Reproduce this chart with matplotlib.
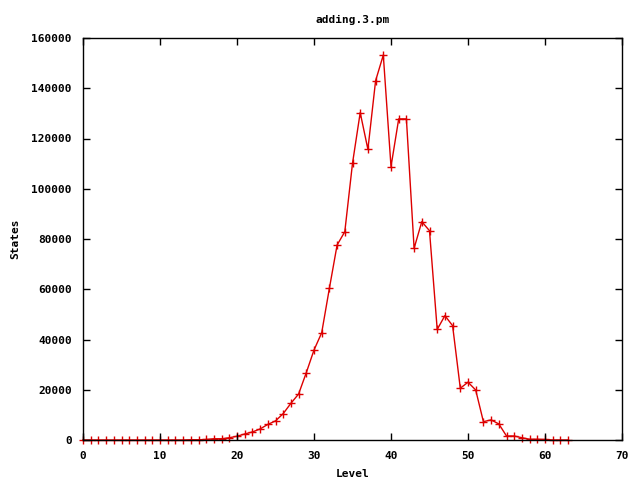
import matplotlib
matplotlib.use("Agg")
import matplotlib.pyplot as plt

levels = list(range(0, 64))
states = [0, 0, 0, 0, 0, 0, 0, 0, 0, 0,
          0, 0, 0, 0, 100, 100, 200, 500, 500, 900,
          1500, 2400, 3200, 4400, 6200, 7600, 10500, 14600, 18300, 26800,
          35800, 42700, 60400, 77600, 82900, 110100, 130300, 115700, 143000, 153200,
          108800, 127800, 127800, 76300, 86900, 83300, 44000, 49500, 45500, 20600,
          23000, 19900, 7300, 8000, 6400, 1600, 1600, 900, 300, 300,
          200, 0, 0, 0]

plt.rcParams['font.family'] = 'DejaVu Sans Mono'
plt.rcParams['font.weight'] = 'bold'
plt.rcParams['font.size'] = 8

fig = plt.figure(figsize=(6.4, 4.8), dpi=100)
ax = fig.add_axes([83/640, 40/480, 539/640, 402/480])

ax.plot(levels, states, color='#dd0000', linewidth=1, marker='+',
        markersize=6, markeredgewidth=1, clip_on=False, zorder=1)

ax.set_xlim(0, 70)
ax.set_ylim(0, 160000)
ax.set_xticks(range(0, 71, 10))
ax.set_yticks(range(0, 160001, 20000))
ax.tick_params(direction='in', length=5, width=1, top=True, right=True,
               pad=8, labelsize=8)
for s in ax.spines.values():
    s.set_linewidth(1)
    s.set_zorder(3)

ax.set_title('adding.3.pm', fontsize=8, fontweight='bold', pad=11)
ax.set_xlabel('Level', fontsize=8, fontweight='bold', labelpad=6)
ax.set_ylabel('States', fontsize=8, fontweight='bold', labelpad=8)

fig.savefig('out.png', dpi=100)
